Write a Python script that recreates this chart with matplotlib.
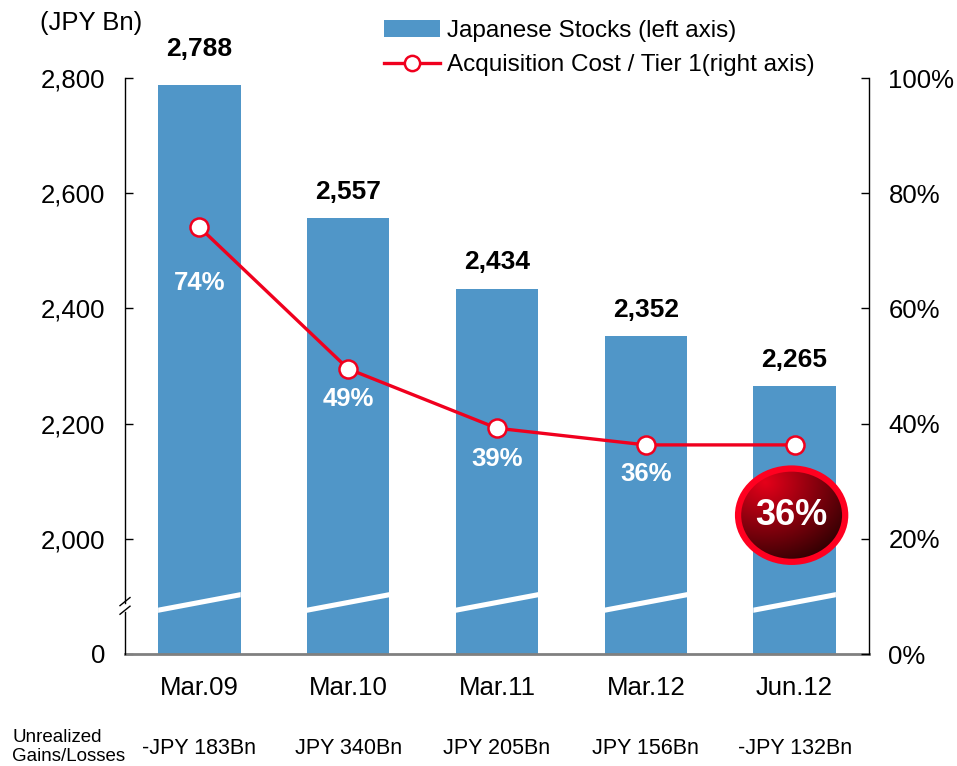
import numpy as np
import matplotlib
matplotlib.use("Agg")
import matplotlib.pyplot as plt
from matplotlib.patches import Ellipse, Patch, Polygon
from matplotlib.lines import Line2D
import matplotlib.transforms as mtransforms

plt.rcParams['font.family'] = ['Liberation Sans', 'DejaVu Sans']

categories = ['Mar.09', 'Mar.10', 'Mar.11', 'Mar.12', 'Jun.12']
stocks = [2788, 2557, 2434, 2352, 2265]
stock_labels = ['2,788', '2,557', '2,434', '2,352', '2,265']
ratio = [74.1, 49.5, 39.2, 36.3, 36.3]
ratio_labels = ['74%', '49%', '39%', '36%', '36%']
unrealized = ['-JPY 183Bn', 'JPY 340Bn', 'JPY 205Bn', 'JPY 156Bn', '-JPY 132Bn']
left_ticks = [1800, 2000, 2200, 2400, 2600, 2800]
left_ticklabels = ['0', '2,000', '2,200', '2,400', '2,600', '2,800']
right_ticks = [0, 20, 40, 60, 80, 100]
right_ticklabels = ['0%', '20%', '40%', '60%', '80%', '100%']

BAR = '#5096C8'
RED = '#F0001E'
base = 1800

fig = plt.figure(figsize=(9.57, 7.66), dpi=100)
ax = fig.add_axes([125/957, 1-654/766, 744/957, 576/766])
ax2 = ax.twinx()

x = np.arange(len(categories))
w = 0.555
ax.bar(x, np.array(stocks) - base, bottom=base, width=w, color=BAR, zorder=2)
ax.set_xlim(-0.5, len(categories) - 0.5)
ax.set_ylim(1800, 2800)
ax.set_yticks(left_ticks)
ax.set_yticklabels(left_ticklabels)
ax.set_xticks(x)
ax.set_xticklabels(categories)
ax.tick_params(axis='y', direction='in', length=6, width=1, pad=14, labelsize=18.5, colors='black')
ax.tick_params(axis='x', length=0, pad=16, labelsize=18.5)
ax.spines['top'].set_visible(False)
ax.spines['left'].set_visible(False)
ax.spines['right'].set_visible(False)
ax.spines['bottom'].set_color('#808080')
ax.spines['bottom'].set_linewidth(2)
ax.spines['bottom'].set_zorder(5)

# break band across bars
for xi in x:
    xl, xr = xi - w/2, xi + w/2
    yl, yr, th = 1876, 1903, 4.5
    poly = Polygon([[xl, yl - th], [xr, yr - th], [xr, yr + th], [xl, yl + th]],
                   closed=True, facecolor='white', edgecolor='none', zorder=3)
    ax.add_patch(poly)

# left spine with break
trans = mtransforms.blended_transform_factory(ax.transAxes, ax.transData)
ax.plot([0, 0], [1800, 1873], color='black', lw=1, transform=trans, clip_on=False, zorder=6)
ax.plot([0, 0], [1889, 2800], color='black', lw=1, transform=trans, clip_on=False, zorder=6)
dx = 5/744
for yc in [1876, 1891]:
    ax.plot([-dx, dx], [yc - 7, yc + 7], color='black', lw=1, transform=trans, clip_on=False, zorder=6)

# value labels above bars
stock_offsets = [26, 19, 19, 19, 19]
for xi, v, lab, off in zip(x, stocks, stock_labels, stock_offsets):
    ax.annotate(lab, (xi, v), xytext=(0, off), textcoords='offset points',
                ha='center', va='center', fontsize=19, fontweight='bold', zorder=7)

# line on right axis
ax2.plot(x, ratio, color=RED, lw=2.4, marker='o', markersize=13,
         markerfacecolor='white', markeredgecolor=RED, markeredgewidth=1.8, zorder=4)
ax2.set_ylim(0, 100)
ax2.set_yticks(right_ticks)
ax2.set_yticklabels(right_ticklabels)
ax2.tick_params(axis='y', direction='in', length=6, width=1, pad=14, labelsize=18.5)
ax2.spines['top'].set_visible(False)
ax2.spines['left'].set_visible(False)
ax2.spines['bottom'].set_visible(False)
ax2.spines['right'].set_linewidth(1)

ratio_offsets = [40, 22, 22, 21]
for xi, v, lab, off in zip(x[:-1], ratio[:-1], ratio_labels[:-1], ratio_offsets):
    ax2.annotate(lab, (xi, v), xytext=(0, -off), textcoords='offset points',
                 ha='center', va='center', fontsize=18.5, fontweight='bold',
                 color='white', zorder=7)

# highlighted last value
cx, cy = x[-1] - 0.02, 24.1
ew, eh = 0.72, 16.2
gx = np.linspace(0, 1, 200)
gy = np.linspace(0, 1, 200)
GX, GY = np.meshgrid(gx, gy)
d = np.clip(np.sqrt((GX - 0.25)**2 + (GY - 0.15)**2) / 1.0, 0, 1)
c0 = np.array([0.90, 0.0, 0.10])
c1 = np.array([0.12, 0.0, 0.0])
img = c0[None, None, :] * (1 - d[..., None]) + c1[None, None, :] * d[..., None]
im = ax2.imshow(img, extent=[cx - ew/2, cx + ew/2, cy - eh/2, cy + eh/2],
                aspect='auto', zorder=8, origin='upper', interpolation='bilinear')
clip = Ellipse((cx, cy), ew, eh, transform=ax2.transData, facecolor='none')
ax2.add_patch(clip)
clip.set_visible(False)
im.set_clip_path(clip)
ell = Ellipse((cx, cy), ew, eh, facecolor='none', edgecolor='#FF0020', lw=4.5, zorder=9)
ax2.add_patch(ell)
ax2.text(cx, cy, ratio_labels[-1], ha='center', va='center', fontsize=26,
         fontweight='bold', color='white', zorder=10)
ax2.set_xlim(-0.5, len(categories) - 0.5)
ax2.set_ylim(0, 100)

# unit label
fig.text(40/957, 1-23/766, '(JPY Bn)', fontsize=18.5, ha='left', va='center')

# legend
handles = [Patch(facecolor=BAR, edgecolor='none'),
           Line2D([], [], color=RED, lw=2.4, marker='o', markersize=11,
                  markerfacecolor='white', markeredgecolor=RED, markeredgewidth=1.8)]
fig.legend(handles, ['Japanese Stocks (left axis)', 'Acquisition Cost / Tier 1(right axis)'],
           loc='upper left', bbox_to_anchor=(374/957, 1 - 10/766), frameon=False,
           fontsize=17.5, handlelength=2.3, handletextpad=0.3, labelspacing=0.52,
           borderaxespad=0)

# bottom row
fig.text(12/957, 1-747/766, 'Unrealized\nGains/Losses', fontsize=13.5, ha='left', va='center',
         linespacing=1.15)
for xi, lab in zip(x, unrealized):
    xd = ax.transData.transform((xi, 1800))[0]
    fig.text(xd / fig.bbox.width, 1-748/766, lab, fontsize=15.5, ha='center', va='center')

fig.savefig('out.png', dpi=100)
